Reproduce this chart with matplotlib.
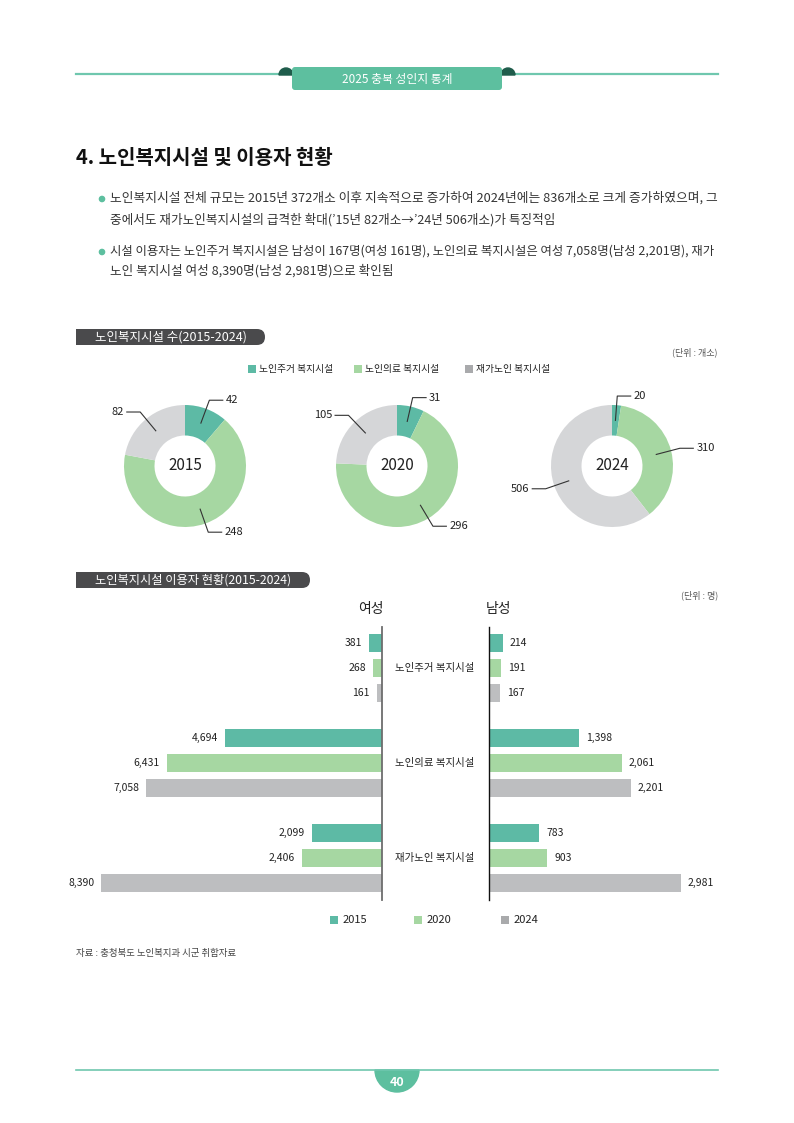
import numpy as np
import matplotlib
matplotlib.use('Agg')
import matplotlib.pyplot as plt
import matplotlib.transforms as mtrans
from matplotlib.patches import Rectangle, FancyBboxPatch, Wedge, Circle

plt.rcParams['font.family'] = ['Noto Sans CJK KR', 'DejaVu Sans']

# ---------------- data ----------------
years = ['2015', '2020', '2024']
facility_types = ['노인주거 복지시설', '노인의료 복지시설', '재가노인 복지시설']
facilities_2015 = [42, 248, 82]
facilities_2020 = [31, 296, 105]
facilities_2024 = [20, 310, 506]
female_2015 = [381, 4694, 2099]
female_2020 = [268, 6431, 2406]
female_2024 = [161, 7058, 8390]
male_2015 = [214, 1398, 783]
male_2020 = [191, 2061, 903]
male_2024 = [167, 2201, 2981]

# ---------------- style ----------------
TEAL = '#5dbaa5'
GREEN = '#a6d7a2'
GRAY_D = '#d5d6d8'
GRAY_B = '#bdbec0'
GRAY_L = '#a9aaac'
LINE = '#6fc7ae'
BADGE = '#5dbf9f'
DARK = '#4a4a4c'
TXT = '#222222'

W, H = 794, 1123
fig = plt.figure(figsize=(W / 100, H / 100), dpi=100)
bg = fig.add_axes([0, 0, 1, 1])
bg.set_xlim(0, W)
bg.set_ylim(H, 0)
bg.axis('off')
renderer = fig.canvas.get_renderer()


def px_axes(x0, y0, x1, y1):
    return fig.add_axes([x0 / W, 1 - y1 / H, (x1 - x0) / W, (y1 - y0) / H])


def fit_size(s, width, size0=10, **kw):
    t = bg.text(0, 0, s, fontsize=size0, **kw)
    bb = t.get_window_extent(renderer)
    t.remove()
    return size0 * width / bb.width


# ---------------- header ----------------
bg.plot([76, 718], [74, 74], color=LINE, lw=1.6, zorder=1)
bg.add_patch(Wedge((286, 75), 7, 180, 360, color='#1f5c4b', zorder=2))
bg.add_patch(Wedge((508, 75), 7, 180, 360, color='#1f5c4b', zorder=2))
bg.add_patch(FancyBboxPatch((292, 67), 210, 23, boxstyle='round,pad=0,rounding_size=3',
                            fc=BADGE, ec='none', zorder=3))
bg.text(397, 79, '2025 충북 성인지 통계', color='white', fontsize=8.5,
        ha='center', va='center', zorder=4)

# ---------------- title ----------------
title = '4. 노인복지시설 및 이용자 현황'
bg.text(76, 157, title, fontsize=fit_size(title, 257, fontweight='bold'),
        fontweight='bold', color='#111111', ha='left', va='center')

# ---------------- bullets ----------------
b1 = '노인복지시설 전체 규모는 2015년 372개소 이후 지속적으로 증가하여 2024년에는 836개소로 크게 증가하였으며, 그'
b2 = '중에서도 재가노인복지시설의 급격한 확대(’15년 82개소→’24년 506개소)가 특징적임'
b3 = '시설 이용자는 노인주거 복지시설은 남성이 167명(여성 161명), 노인의료 복지시설은 여성 7,058명(남성 2,201명), 재가'
b4 = '노인 복지시설 여성 8,390명(남성 2,981명)으로 확인됨'
s1 = fit_size(b1, 606)
s3 = fit_size(b3, 606)
bs = (s1 + s3) / 2
for yy in (198, 251):
    bg.add_patch(Circle((102, yy + 1), 2.6, color=BADGE))
for s, yy, fs in ((b1, 198, s1), (b2, 220, bs), (b3, 251, s3), (b4, 271, bs)):
    bg.text(110, yy, s, fontsize=fs, color='#333333', ha='left', va='center')


# ---------------- section labels ----------------
def section(x0, x1, y0, y1, s):
    bg.add_patch(FancyBboxPatch((x0, y0), x1 - x0, y1 - y0,
                                boxstyle='round,pad=0,rounding_size=8', fc=DARK, ec='none'))
    bg.add_patch(Rectangle((x0, y0), (x1 - x0) / 2, y1 - y0, fc=DARK, ec='none'))
    bg.text(x0 + 19, (y0 + y1) / 2 + 0.5, s, color='white',
            fontsize=fit_size(s, x1 - x0 - 38), ha='left', va='center')


section(76, 265, 329, 345, '노인복지시설 수(2015-2024)')
section(76, 310, 572, 588, '노인복지시설 이용자 현황(2015-2024)')

bg.text(718, 352, '(단위 : 개소)', fontsize=6.5, color='#555555', ha='right', va='center')
bg.text(718, 595, '(단위 : 명)', fontsize=6.5, color='#555555', ha='right', va='center')

# ---------------- donut legend ----------------
for xs, c, lab in ((248, TEAL, facility_types[0]),
                   (354, GREEN, facility_types[1]),
                   (465, GRAY_L, facility_types[2])):
    bg.add_patch(Rectangle((xs, 365), 8, 8, fc=c, ec='none'))
    bg.text(xs + 11, 369, lab, fontsize=7, color=TXT, ha='left', va='center')

# ---------------- donuts ----------------
R = 61
centers = [(185, 466), (397, 466), (612, 466)]
donut_data = [facilities_2015, facilities_2020, facilities_2024]
for (cx, cy), vals, yr in zip(centers, donut_data, years):
    half = 115
    ax = px_axes(cx - half, cy - half, cx + half, cy + half)
    wedges, _ = ax.pie(vals, colors=[TEAL, GREEN, GRAY_D], startangle=90, counterclock=False,
                       radius=1, wedgeprops=dict(width=0.5, linewidth=0))
    lim = half / R
    ax.set_xlim(-lim, lim)
    ax.set_ylim(-lim, lim)
    ax.set_aspect('equal')
    ax.axis('off')
    ax.text(0, 0, yr, fontsize=11, ha='center', va='center', color=TXT)
    for w, v in zip(wedges, vals):
        ang = np.deg2rad((w.theta1 + w.theta2) / 2)
        c, s = np.cos(ang), np.sin(ang)
        sgn = 1 if c >= -0.05 else -1
        p0 = (0.75 * c, 0.75 * s)
        p1 = (1.15 * c, 1.15 * s)
        p2 = (p1[0] + sgn * 0.22, p1[1])
        ax.plot([p0[0], p1[0], p2[0]], [p0[1], p1[1], p2[1]], color='#333333', lw=0.8,
                clip_on=False)
        ax.text(p2[0] + sgn * 0.05, p2[1], str(v), fontsize=8, color=TXT,
                ha='left' if sgn > 0 else 'right', va='center')

# ---------------- butterfly bars ----------------
female = [female_2015, female_2020, female_2024]
male = [male_2015, male_2020, male_2024]
bar_cols = [TEAL, GREEN, GRAY_B]
group_gap = 3.8
y_top, y_bot = 627, 900
slot_px = 25
ylim = ((y_bot - 643) / slot_px, (y_top - 643) / slot_px)

axf = px_axes(76, y_top, 382, y_bot)
axm = px_axes(489, y_top, 718, y_bot)
for ax in (axf, axm):
    ax.set_ylim(*ylim)
    ax.set_xticks([])
    ax.set_yticks([])
    for sp in ax.spines.values():
        sp.set_visible(False)
    ax.patch.set_alpha(0)
axf.set_xlim(9150, 0)
axm.set_xlim(0, 3560)
axf.spines['right'].set_visible(True)
axf.spines['right'].set_color('#6d6d6d')
axf.spines['right'].set_linewidth(1.3)
axm.spines['left'].set_visible(True)
axm.spines['left'].set_color('#111111')
axm.spines['left'].set_linewidth(1.0)

for yi in range(len(years)):
    pos = [g * group_gap + yi for g in range(len(facility_types))]
    fv = female[yi]
    mv = male[yi]
    axf.barh(pos, fv, height=0.72, color=bar_cols[yi], linewidth=0)
    axm.barh(pos, mv, height=0.72, color=bar_cols[yi], linewidth=0)
    for p, v in zip(pos, fv):
        axf.annotate(f'{v:,}', (v, p), xytext=(-5, 0), textcoords='offset points',
                     ha='right', va='center', fontsize=7.5, color=TXT)
    for p, v in zip(pos, mv):
        axm.annotate(f'{v:,}', (v, p), xytext=(5, 0), textcoords='offset points',
                     ha='left', va='center', fontsize=7.5, color=TXT)

blend = mtrans.blended_transform_factory(bg.transData, axf.transData)
for g, lab in enumerate(facility_types):
    bg.text(435, g * group_gap + 1, lab, transform=blend, fontsize=7.5, color=TXT,
            ha='center', va='center')

bg.text(384, 609, '여성', fontsize=10, color=TXT, ha='right', va='center')
bg.text(486, 609, '남성', fontsize=10, color=TXT, ha='left', va='center')

# bottom legend
for xs, c, yr in ((330, TEAL, years[0]), (414, GREEN, years[1]), (501, GRAY_L, years[2])):
    bg.add_patch(Rectangle((xs, 916), 8, 8, fc=c, ec='none'))
    bg.text(xs + 13, 920, yr, fontsize=8, color=TXT, ha='left', va='center')

# source
bg.text(76, 953, '자료 : 충청북도 노인복지과 시군 취합자료', fontsize=6.8, color='#444444',
        ha='left', va='center')

# ---------------- footer ----------------
bg.plot([76, 718], [1070, 1070], color=LINE, lw=1.2)
bg.add_patch(Wedge((397, 1070), 22, 0, 180, color=BADGE))
bg.text(397, 1082, '40', color='white', fontsize=9, fontweight='bold', ha='center', va='center')

fig.savefig('out.png', dpi=100)
